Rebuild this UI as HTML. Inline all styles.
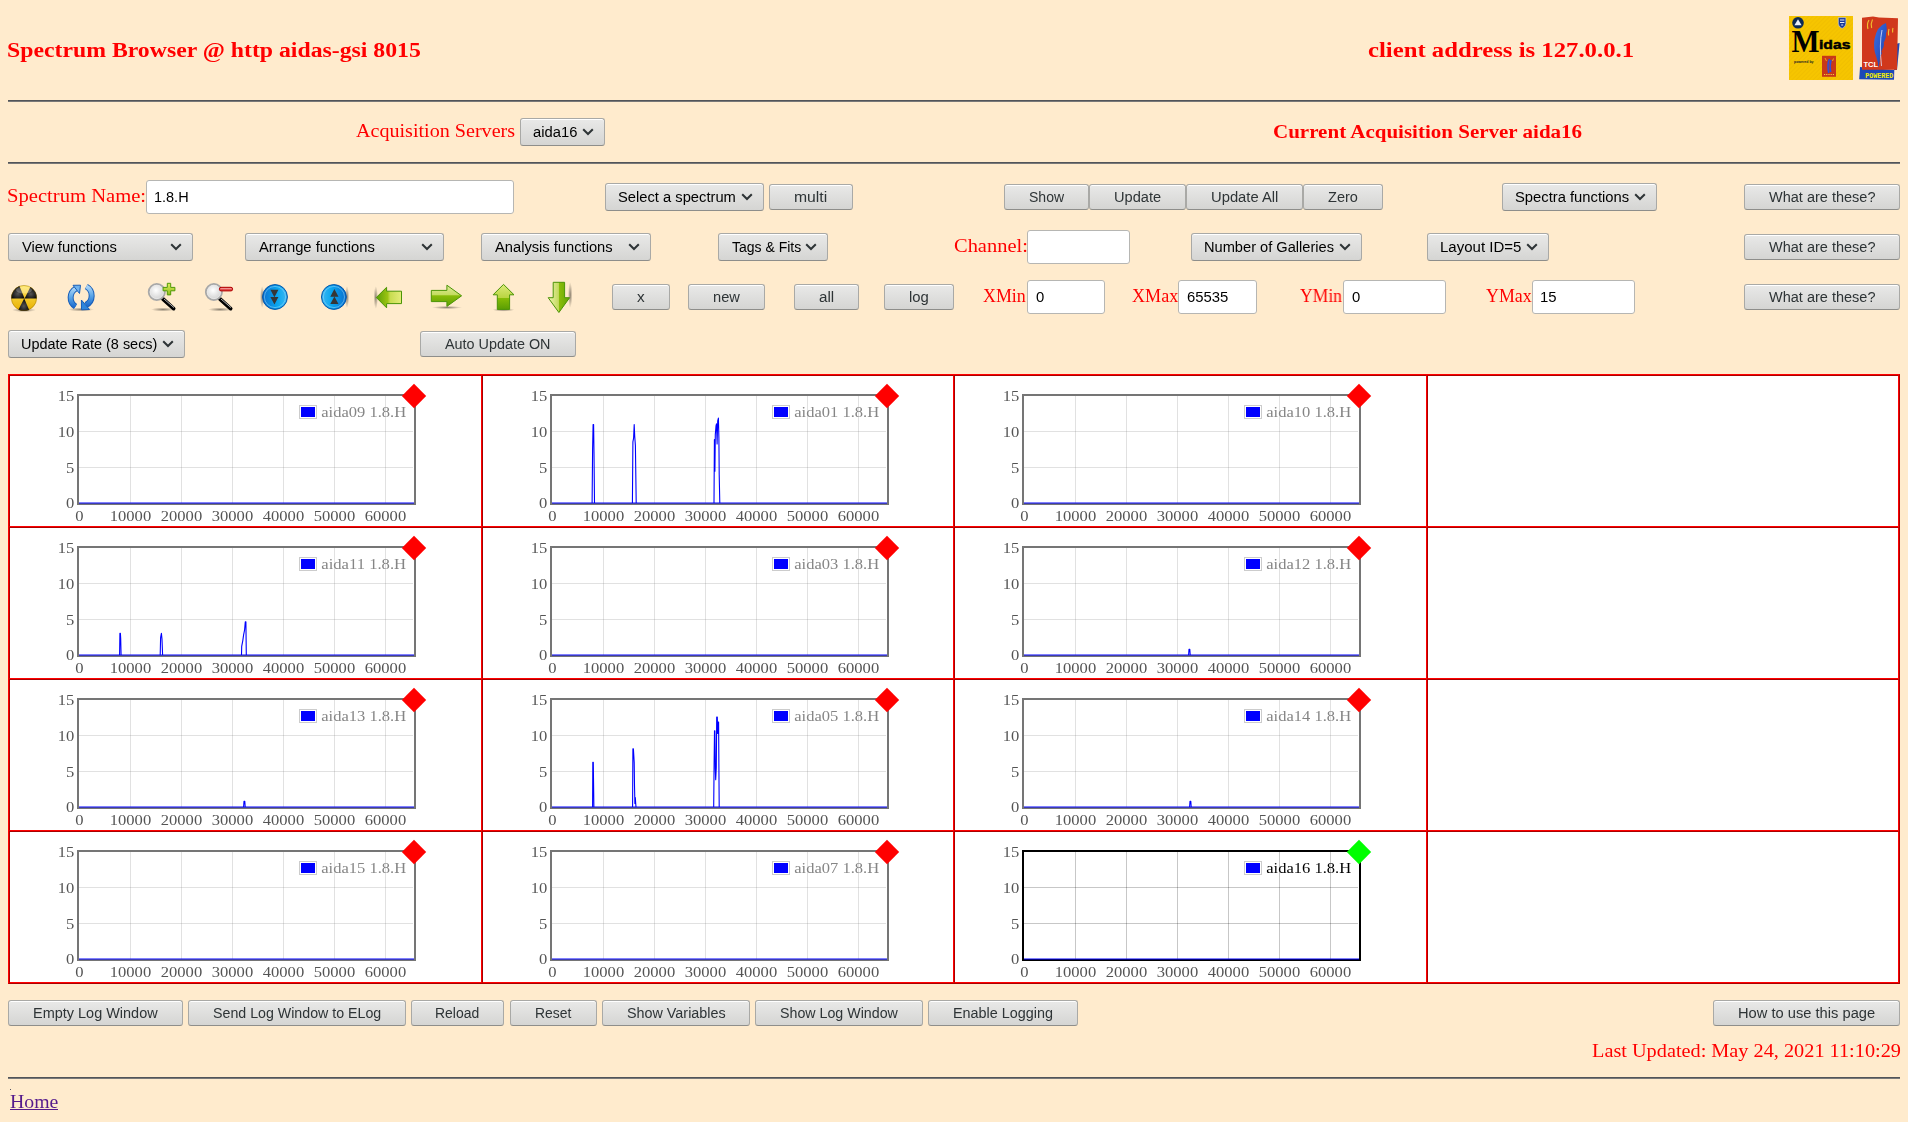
<!DOCTYPE html>
<html><head><meta charset="utf-8"><title>Spectrum Browser</title><style>
html,body{margin:0;padding:0;background:#ffebcd;}
body{width:1908px;height:1122px;position:relative;overflow:hidden;font-family:"Liberation Serif",serif;}
.tx{position:absolute;white-space:nowrap;line-height:20px;transform-origin:0 0;will-change:transform;}
.btn{position:absolute;border:1px solid #a9a9a6;border-bottom-color:#8e8e8b;border-radius:3px;
 background:linear-gradient(#e9e9e8,#d5d5d3);box-shadow:inset 0 1px 0 #fff;}
.sel{}
.chev{position:absolute;}
.inp{position:absolute;border:1px solid #b6b6b3;border-radius:3px;background:#fff;}
.hr{position:absolute;left:8px;width:1892px;height:0;border-top:1px solid #525458;border-bottom:1px solid #787878;}
.tbl{position:absolute;left:8px;top:374px;width:1890px;height:608px;border:1px solid;border-color:#ff0000 #ab0000 #ab0000 #ff0000;}
.td{position:absolute;border:1px solid;border-color:#ab0000 #ff0000 #ff0000 #ab0000;background:#fff;}
.ch{position:absolute;font-family:"Liberation Serif",serif;will-change:transform;}
.ico{position:absolute;}
</style></head><body>
<div class="tx" style="left:7.41px;top:40.00px;font-family:'Liberation Serif', serif;font-weight:bold;font-size:20.03px;color:#ff0000;transform:scaleX(1.1869)">Spectrum Browser @ http aidas-gsi 8015</div>
<div class="tx" style="left:1367.93px;top:40.00px;font-family:'Liberation Serif', serif;font-weight:bold;font-size:20.03px;color:#ff0000;transform:scaleX(1.2353)">client address is 127.0.0.1</div>
<svg class="ico" width="120" height="70" viewBox="1788 14 120 70" style="left:1788px;top:14px">
<defs>
 <pattern id="stripe" width="3" height="3" patternUnits="userSpaceOnUse" patternTransform="rotate(45)"><rect width="3" height="3" fill="#f6c500"/><rect width="1" height="3" fill="#f1bf00"/></pattern>
 <linearGradient id="feather" x1="0" y1="0" x2="1" y2="1"><stop offset="0" stop-color="#3a6fe0"/><stop offset="1" stop-color="#1c3fb0"/></linearGradient>
</defs>
<!-- Midas -->
<rect x="1789" y="16" width="64" height="64" fill="url(#stripe)"/>
<circle cx="1798" cy="22.8" r="5.8" fill="#0c2a55"/>
<path d="M1798 19.3 L1801.6 25.3 L1794.4 25.3 Z" fill="#e8eef8"/>
<path d="M1838.3 17.6 h7.6 v5.6 q0 3.6 -3.8 5.2 q-3.8 -1.6 -3.8 -5.2 z" fill="#1a3a9a" stroke="#f8f8f8" stroke-width="0.5"/>
<path d="M1840 20 h4.4 M1840 22.5 h4.4 M1841.2 25 h2" stroke="#fff" stroke-width="0.9"/>
<text x="1791.5" y="51.8" font-family="'Liberation Serif', serif" font-weight="bold" font-size="32" fill="#000" textLength="28" lengthAdjust="spacingAndGlyphs">M</text>
<text x="1819" y="49.3" font-family="'Liberation Sans', sans-serif" font-weight="bold" font-size="13.5" fill="#000" stroke="#000" stroke-width="0.5" textLength="31.5" lengthAdjust="spacingAndGlyphs">idas</text>
<text x="1794" y="62.5" font-family="'Liberation Sans', sans-serif" font-weight="bold" font-size="4.2" fill="#222" textLength="19.5" lengthAdjust="spacingAndGlyphs">powered by</text>
<rect x="1822" y="55.8" width="14" height="21" fill="#c83818"/>
<path d="M1829.5 59 q-2.5 5 -0.8 14 M1831 60 q-1.5 5 -0.4 12" stroke="#3050d8" stroke-width="1.6" fill="none"/>
<path d="M1825 58 l1.5 3 M1833.5 58.5 l-1 2.5" stroke="#f0c020" stroke-width="0.8"/>
<path d="M1824 74.5 h10" stroke="#f0d040" stroke-width="1" stroke-dasharray="1.2 1"/>
<!-- TCL -->
<path d="M1860 67 L1859.2 79.2 L1894 79.7 L1894.3 70 Z" fill="#1c48b8"/>
<path d="M1895.5 44 L1899.6 43 L1897 70 L1894 70 Z" fill="#1c48b8"/>
<path d="M1862 17.8 L1873 16.5 L1879 17.6 L1898 18.2 L1897 69.8 L1862 69.8 Z" fill="#d0381c"/>
<path d="M1869 20 q-2.5 4 -1 9 M1872.5 19.5 q-2 4 -0.8 8.5 M1889 29 q-1 3.5 -0.4 6.5 M1893 28 q-0.8 2.5 -0.3 4.5" stroke="#f0c030" stroke-width="1.1" fill="none"/>
<path d="M1886 23 q-9 3 -11.5 16 q-1.5 9 1.5 17 q2 5 2.5 12 q1.2 -5 1.5 -10 q1 -3 2 -5 q-1.5 -1 0 -3 q2 -3 2 -6 q-1 -1 0.5 -3 q2 -4 1.5 -8 q1.5 -2 0 -10 z" fill="url(#feather)"/>
<path d="M1882 30 q-3 14 -0.5 36" stroke="#dfe6ff" stroke-width="0.8" fill="none"/>
<text x="1863.4" y="66.8" font-family="'Liberation Sans', sans-serif" font-weight="bold" font-size="7" fill="#fff" textLength="14.6" lengthAdjust="spacingAndGlyphs">TCL</text>
<text x="1865.3" y="77.8" font-family="'Liberation Mono', monospace" font-weight="bold" font-size="7.4" fill="#f4f000" textLength="28" lengthAdjust="spacingAndGlyphs">POWERED</text>
</svg>

<div class="hr" style="top:100px"></div>
<div class="tx" style="left:356.26px;top:121.00px;font-family:'Liberation Serif', serif;font-weight:normal;font-size:17.81px;color:#ff0000;transform:scaleX(1.1292)">Acquisition Servers</div>
<div class="btn sel" style="left:520px;top:118px;width:83px;height:26px"></div>
<div class="tx" style="left:533.15px;top:123.00px;font-family:'Liberation Sans', sans-serif;font-weight:normal;font-size:13.71px;color:#000;transform:scaleX(1.0775)">aida16</div>
<svg class="chev" width="12" height="8" viewBox="0 0 12 8" style="left:582px;top:128px"><path d="M1.2 1.2 L6 6 L10.8 1.2" fill="none" stroke="#2e3436" stroke-width="2"/></svg>
<div class="tx" style="left:1272.57px;top:121.50px;font-family:'Liberation Serif', serif;font-weight:bold;font-size:17.81px;color:#ff0000;transform:scaleX(1.1804)">Current Acquisition Server aida16</div>
<div class="hr" style="top:162px"></div>
<div class="tx" style="left:7.10px;top:186.00px;font-family:'Liberation Serif', serif;font-weight:normal;font-size:17.81px;color:#ff0000;transform:scaleX(1.1582)">Spectrum Name:</div>
<div class="inp" style="left:146px;top:180px;width:366px;height:32px"></div>
<div class="tx" style="left:154.32px;top:188.00px;font-family:'Liberation Sans', sans-serif;font-weight:normal;font-size:13.71px;color:#000;transform:scaleX(1.0559)">1.8.H</div>
<div class="btn sel" style="left:605px;top:183px;width:157px;height:26px"></div>
<div class="tx" style="left:618.02px;top:188.00px;font-family:'Liberation Sans', sans-serif;font-weight:normal;font-size:13.71px;color:#000;transform:scaleX(1.0746)">Select a spectrum</div>
<svg class="chev" width="12" height="8" viewBox="0 0 12 8" style="left:741px;top:193px"><path d="M1.2 1.2 L6 6 L10.8 1.2" fill="none" stroke="#2e3436" stroke-width="2"/></svg>
<div class="btn" style="left:769px;top:184px;width:82px;height:24px"></div>
<div class="tx" style="left:794.39px;top:188.00px;font-family:'Liberation Sans', sans-serif;font-weight:normal;font-size:13.71px;color:#2e3436;transform:scaleX(1.1483)">multi</div>
<div class="btn" style="left:1004px;top:184px;width:83px;height:24px"></div>
<div class="tx" style="left:1028.96px;top:188.00px;font-family:'Liberation Sans', sans-serif;font-weight:normal;font-size:13.71px;color:#2e3436;transform:scaleX(1.0233)">Show</div>
<div class="btn" style="left:1089px;top:184px;width:95px;height:24px"></div>
<div class="tx" style="left:1113.96px;top:188.00px;font-family:'Liberation Sans', sans-serif;font-weight:normal;font-size:13.71px;color:#2e3436;transform:scaleX(1.0655)">Update</div>
<div class="btn" style="left:1186px;top:184px;width:115px;height:24px"></div>
<div class="tx" style="left:1210.84px;top:188.00px;font-family:'Liberation Sans', sans-serif;font-weight:normal;font-size:13.71px;color:#2e3436;transform:scaleX(1.0778)">Update All</div>
<div class="btn" style="left:1303px;top:184px;width:78px;height:24px"></div>
<div class="tx" style="left:1328.04px;top:188.00px;font-family:'Liberation Sans', sans-serif;font-weight:normal;font-size:13.71px;color:#2e3436;transform:scaleX(1.0618)">Zero</div>
<div class="btn sel" style="left:1502px;top:183px;width:153px;height:26px"></div>
<div class="tx" style="left:1515.03px;top:188.00px;font-family:'Liberation Sans', sans-serif;font-weight:normal;font-size:13.71px;color:#000;transform:scaleX(1.0773)">Spectra functions</div>
<svg class="chev" width="12" height="8" viewBox="0 0 12 8" style="left:1634px;top:193px"><path d="M1.2 1.2 L6 6 L10.8 1.2" fill="none" stroke="#2e3436" stroke-width="2"/></svg>
<div class="btn" style="left:1744px;top:184px;width:154px;height:24px"></div>
<div class="tx" style="left:1768.77px;top:188.00px;font-family:'Liberation Sans', sans-serif;font-weight:normal;font-size:13.71px;color:#2e3436;transform:scaleX(1.0587)">What are these?</div>
<div class="btn sel" style="left:8px;top:233px;width:183px;height:26px"></div>
<div class="tx" style="left:21.77px;top:238.00px;font-family:'Liberation Sans', sans-serif;font-weight:normal;font-size:13.71px;color:#000;transform:scaleX(1.0766)">View functions</div>
<svg class="chev" width="12" height="8" viewBox="0 0 12 8" style="left:170px;top:243px"><path d="M1.2 1.2 L6 6 L10.8 1.2" fill="none" stroke="#2e3436" stroke-width="2"/></svg>
<div class="btn sel" style="left:245px;top:233px;width:197px;height:26px"></div>
<div class="tx" style="left:258.77px;top:238.00px;font-family:'Liberation Sans', sans-serif;font-weight:normal;font-size:13.71px;color:#000;transform:scaleX(1.0784)">Arrange functions</div>
<svg class="chev" width="12" height="8" viewBox="0 0 12 8" style="left:421px;top:243px"><path d="M1.2 1.2 L6 6 L10.8 1.2" fill="none" stroke="#2e3436" stroke-width="2"/></svg>
<div class="btn sel" style="left:481px;top:233px;width:168px;height:26px"></div>
<div class="tx" style="left:494.77px;top:238.00px;font-family:'Liberation Sans', sans-serif;font-weight:normal;font-size:13.71px;color:#000;transform:scaleX(1.0720)">Analysis functions</div>
<svg class="chev" width="12" height="8" viewBox="0 0 12 8" style="left:628px;top:243px"><path d="M1.2 1.2 L6 6 L10.8 1.2" fill="none" stroke="#2e3436" stroke-width="2"/></svg>
<div class="btn sel" style="left:718px;top:233px;width:108px;height:26px"></div>
<div class="tx" style="left:732.02px;top:238.00px;font-family:'Liberation Sans', sans-serif;font-weight:normal;font-size:13.71px;color:#000;transform:scaleX(1.0210)">Tags &amp; Fits</div>
<svg class="chev" width="12" height="8" viewBox="0 0 12 8" style="left:805px;top:243px"><path d="M1.2 1.2 L6 6 L10.8 1.2" fill="none" stroke="#2e3436" stroke-width="2"/></svg>
<div class="tx" style="left:953.64px;top:236.00px;font-family:'Liberation Serif', serif;font-weight:normal;font-size:17.81px;color:#ff0000;transform:scaleX(1.1491)">Channel:</div>
<div class="inp" style="left:1027px;top:230px;width:101px;height:32px"></div>
<div class="btn sel" style="left:1191px;top:233px;width:169px;height:26px"></div>
<div class="tx" style="left:1203.65px;top:238.00px;font-family:'Liberation Sans', sans-serif;font-weight:normal;font-size:13.71px;color:#000;transform:scaleX(1.0669)">Number of Galleries</div>
<svg class="chev" width="12" height="8" viewBox="0 0 12 8" style="left:1339px;top:243px"><path d="M1.2 1.2 L6 6 L10.8 1.2" fill="none" stroke="#2e3436" stroke-width="2"/></svg>
<div class="btn sel" style="left:1427px;top:233px;width:120px;height:26px"></div>
<div class="tx" style="left:1439.65px;top:238.00px;font-family:'Liberation Sans', sans-serif;font-weight:normal;font-size:13.71px;color:#000;transform:scaleX(1.0950)">Layout ID=5</div>
<svg class="chev" width="12" height="8" viewBox="0 0 12 8" style="left:1526px;top:243px"><path d="M1.2 1.2 L6 6 L10.8 1.2" fill="none" stroke="#2e3436" stroke-width="2"/></svg>
<div class="btn" style="left:1744px;top:234px;width:154px;height:24px"></div>
<div class="tx" style="left:1768.77px;top:238.00px;font-family:'Liberation Sans', sans-serif;font-weight:normal;font-size:13.71px;color:#2e3436;transform:scaleX(1.0587)">What are these?</div>
<svg class="ico" width="600" height="40" viewBox="0 278 600 40" style="left:0;top:278px">
<defs>
 <radialGradient id="shadow" cx="0.5" cy="0.5" r="0.5"><stop offset="0" stop-color="#000" stop-opacity="0.45"/><stop offset="1" stop-color="#000" stop-opacity="0"/></radialGradient>
 <linearGradient id="yel" x1="0" y1="0" x2="0" y2="1"><stop offset="0" stop-color="#ffe45c"/><stop offset="1" stop-color="#e8b000"/></linearGradient>
 <radialGradient id="blk" cx="0.5" cy="0.6" r="0.6"><stop offset="0" stop-color="#555"/><stop offset="1" stop-color="#000"/></radialGradient>
 <linearGradient id="blueA" x1="0" y1="0" x2="0" y2="1"><stop offset="0" stop-color="#a9d3f5"/><stop offset="0.5" stop-color="#5aa5e8"/><stop offset="1" stop-color="#1f6fd0"/></linearGradient>
 <linearGradient id="bcirc" x1="0" y1="0" x2="1" y2="0"><stop offset="0" stop-color="#0a6fcf"/><stop offset="0.6" stop-color="#0aa6ef"/><stop offset="1" stop-color="#3bb8f3"/></linearGradient>
 <linearGradient id="bcirc2" x1="1" y1="0" x2="0" y2="0"><stop offset="0" stop-color="#0a6fcf"/><stop offset="0.6" stop-color="#0aa6ef"/><stop offset="1" stop-color="#3bb8f3"/></linearGradient>
 <radialGradient id="lens" cx="0.45" cy="0.4" r="0.6"><stop offset="0" stop-color="#ffffff"/><stop offset="1" stop-color="#cfcfcf"/></radialGradient>
 <linearGradient id="gplus" x1="0" y1="0" x2="0" y2="1"><stop offset="0" stop-color="#e0ec60"/><stop offset="1" stop-color="#8cbc18"/></linearGradient>
 <linearGradient id="gL" x1="0" y1="0" x2="1" y2="0"><stop offset="0" stop-color="#5a9e06"/><stop offset="0.45" stop-color="#9cc412"/><stop offset="0.55" stop-color="#c8dc50"/><stop offset="1" stop-color="#e4ec7a"/></linearGradient>
 <linearGradient id="gR" x1="0" y1="0" x2="0" y2="1"><stop offset="0" stop-color="#e0ec9a"/><stop offset="0.45" stop-color="#c4dc60"/><stop offset="0.5" stop-color="#88bc08"/><stop offset="1" stop-color="#5e9e06"/></linearGradient>
 <linearGradient id="gU" x1="0" y1="0" x2="0" y2="1"><stop offset="0" stop-color="#dcea7a"/><stop offset="0.55" stop-color="#b8d440"/><stop offset="0.56" stop-color="#86bc06"/><stop offset="1" stop-color="#5a9e04"/></linearGradient>
 <linearGradient id="gD" x1="0" y1="0" x2="1" y2="0"><stop offset="0" stop-color="#eef4b0"/><stop offset="0.48" stop-color="#c4da60"/><stop offset="0.5" stop-color="#8cbe0a"/><stop offset="1" stop-color="#62a406"/></linearGradient>
<linearGradient id="vsh" x1="0" y1="0" x2="1" y2="0"><stop offset="0" stop-color="#000" stop-opacity="0"/><stop offset="0.5" stop-color="#000" stop-opacity="0.28"/><stop offset="1" stop-color="#000" stop-opacity="0"/></linearGradient>
</defs>
<!-- radiation -->
<ellipse cx="24" cy="310" rx="12" ry="2.2" fill="url(#shadow)"/>
<circle cx="24" cy="298" r="12.8" fill="url(#yel)"/>
<path d="M24.6 298.6 L11.2 298.6 A12.8 12.8 0 0 1 19.4 286.1 Z" fill="url(#blk)"/>
<path d="M24.6 298.6 L36.8 298.6 A12.8 12.8 0 0 0 30.4 286.9 Z" fill="url(#blk)"/>
<path d="M24.2 298.6 L18.4 309.7 A12.8 12.8 0 0 0 29.2 309.9 Z" fill="url(#blk)"/>
<circle cx="24" cy="298" r="12.6" fill="none" stroke="#7a5a00" stroke-width="0.6" opacity="0.6"/>
<ellipse cx="24" cy="290" rx="8" ry="3.5" fill="#fff" opacity="0.25"/>
<!-- refresh -->
<ellipse cx="81" cy="309.5" rx="13" ry="2" fill="url(#shadow)"/>
<path d="M75.5 306.5 A10.5 10.5 0 0 1 76 288.5" fill="none" stroke="#1a5fb8" stroke-width="6"/>
<path d="M75.5 306.5 A10.5 10.5 0 0 1 76 288.5" fill="none" stroke="url(#blueA)" stroke-width="4"/>
<path d="M73 285.3 L80.5 285.2 L79.5 293.5 Z" fill="#6fb2ee" stroke="#1a5fb8" stroke-width="1"/>
<path d="M86.3 286.5 A10.5 10.5 0 0 1 86 305" fill="none" stroke="#1a5fb8" stroke-width="6"/>
<path d="M86.3 286.5 A10.5 10.5 0 0 1 86 305" fill="none" stroke="url(#blueA)" stroke-width="4"/>
<path d="M81.4 300 L89.5 309.5 L81.5 309.8 Z" fill="#2f86dc" stroke="#1a5fb8" stroke-width="1"/>
<!-- zoom in -->
<ellipse cx="163" cy="309.5" rx="12" ry="2" fill="url(#shadow)"/>
<line x1="163" y1="299" x2="173.6" y2="308.6" stroke="#000" stroke-width="3.8" stroke-linecap="round"/>
<line x1="164" y1="299" x2="174" y2="307.6" stroke="#fff" stroke-width="0.9" opacity="0.8"/>
<circle cx="156.8" cy="292" r="8.1" fill="url(#lens)" stroke="#a8a8a8" stroke-width="1.8"/>
<circle cx="156.8" cy="292" r="6.6" fill="none" stroke="#e8e8e8" stroke-width="0.8"/>
<path d="M167.3 283.3 h3.4 v4.1 h4.2 v3.4 h-4.2 v4.1 h-3.4 v-4.1 h-4.2 v-3.4 h4.2 z" fill="url(#gplus)" stroke="#4e9a06" stroke-width="1"/>
<!-- zoom out -->
<ellipse cx="220" cy="309.5" rx="12" ry="2" fill="url(#shadow)"/>
<line x1="220" y1="299" x2="230.6" y2="308.6" stroke="#000" stroke-width="3.8" stroke-linecap="round"/>
<line x1="221" y1="299" x2="231" y2="307.6" stroke="#fff" stroke-width="0.9" opacity="0.8"/>
<circle cx="213.9" cy="292" r="8.1" fill="url(#lens)" stroke="#a8a8a8" stroke-width="1.8"/>
<circle cx="213.9" cy="292" r="6.6" fill="none" stroke="#e8e8e8" stroke-width="0.8"/>
<rect x="219.4" y="287.3" width="13.2" height="3.6" rx="1.6" fill="#e04848" stroke="#b00000" stroke-width="1"/>
<rect x="220.5" y="288" width="11" height="1.1" fill="#f7a0a0" opacity="0.8"/>
<!-- blue circle down -->
<ellipse cx="262.2" cy="297" rx="2.2" ry="11" fill="url(#shadow)"/>
<circle cx="275" cy="297" r="12.4" fill="url(#bcirc)" stroke="#0052a8" stroke-width="1"/>
<circle cx="275" cy="297" r="10.6" fill="none" stroke="#8fd4fa" stroke-width="0.7" opacity="0.8"/>
<path d="M270.4 289.8 H278.4 L274.4 297.2 Z M270.4 296.9 H278.4 L274.4 304.6 Z" fill="#363636"/>
<!-- blue circle up -->
<ellipse cx="347" cy="297" rx="2.2" ry="11" fill="url(#shadow)"/>
<circle cx="333.9" cy="297" r="12.4" fill="url(#bcirc2)" stroke="#0052a8" stroke-width="1"/>
<circle cx="333.9" cy="297" r="10.6" fill="none" stroke="#8fd4fa" stroke-width="0.7" opacity="0.8"/>
<path d="M330.3 296.8 H338.5 L334.4 289 Z M330.3 304 H338.5 L334.4 296.6 Z" fill="#363636"/>
<!-- left arrow -->
<ellipse cx="375.8" cy="297.5" rx="2.2" ry="11.5" fill="url(#shadow)"/>
<path d="M376.3 297.5 L386.6 287.3 L386.6 291.2 L401.5 291.2 L401.5 303.6 L386.6 303.6 L386.6 307.8 Z" fill="url(#gL)" stroke="#4a9406" stroke-width="1" stroke-linejoin="round"/>
<!-- right arrow -->
<ellipse cx="447" cy="307.5" rx="15" ry="1.6" fill="url(#shadow)"/>
<path d="M461.6 295.8 L446.9 285.2 L446.9 290.4 L431.3 290.4 L431.3 301.6 L446.9 301.6 L446.9 306.4 Z" fill="url(#gR)" stroke="#4a9406" stroke-width="1" stroke-linejoin="round"/>
<!-- up arrow -->
<ellipse cx="503.5" cy="309.8" rx="11" ry="1.8" fill="url(#shadow)"/>
<path d="M503.5 284.4 L514 294.8 L509.6 294.8 L509.6 309.4 L497.3 309.4 L497.3 294.8 L493.1 294.8 Z" fill="url(#gU)" stroke="#4a9406" stroke-width="1" stroke-linejoin="round"/>
<!-- down arrow -->
<ellipse cx="570.2" cy="295" rx="2.2" ry="13" fill="url(#shadow)"/>
<path d="M553.2 282.3 L564.6 282.3 L564.6 297.7 L569.6 297.7 L558.9 312.5 L548.2 297.7 L553.2 297.7 Z" fill="url(#gD)" stroke="#4a9406" stroke-width="1" stroke-linejoin="round"/>
</svg>

<div class="btn" style="left:612px;top:284px;width:56px;height:24px"></div>
<div class="tx" style="left:637.15px;top:288.00px;font-family:'Liberation Sans', sans-serif;font-weight:normal;font-size:13.71px;color:#2e3436;transform:scaleX(1.1229)">x</div>
<div class="btn" style="left:688px;top:284px;width:75px;height:24px"></div>
<div class="tx" style="left:713.07px;top:288.00px;font-family:'Liberation Sans', sans-serif;font-weight:normal;font-size:13.71px;color:#2e3436;transform:scaleX(1.0689)">new</div>
<div class="btn" style="left:794px;top:284px;width:63px;height:24px"></div>
<div class="tx" style="left:818.91px;top:288.00px;font-family:'Liberation Sans', sans-serif;font-weight:normal;font-size:13.71px;color:#2e3436;transform:scaleX(1.1079)">all</div>
<div class="btn" style="left:884px;top:284px;width:68px;height:24px"></div>
<div class="tx" style="left:909.09px;top:288.00px;font-family:'Liberation Sans', sans-serif;font-weight:normal;font-size:13.71px;color:#2e3436;transform:scaleX(1.0837)">log</div>
<div class="tx" style="left:983.22px;top:286.00px;font-family:'Liberation Serif', serif;font-weight:normal;font-size:17.81px;color:#ff0000;transform:scaleX(1.0060)">XMin</div>
<div class="inp" style="left:1027px;top:280px;width:76px;height:32px"></div>
<div class="tx" style="left:1035.83px;top:288.00px;font-family:'Liberation Sans', sans-serif;font-weight:normal;font-size:13.71px;color:#000;transform:scaleX(1.0853)">0</div>
<div class="tx" style="left:1131.82px;top:286.00px;font-family:'Liberation Serif', serif;font-weight:normal;font-size:17.81px;color:#ff0000;transform:scaleX(1.0162)">XMax</div>
<div class="inp" style="left:1178px;top:280px;width:77px;height:32px"></div>
<div class="tx" style="left:1186.83px;top:288.00px;font-family:'Liberation Sans', sans-serif;font-weight:normal;font-size:13.71px;color:#000;transform:scaleX(1.0853)">65535</div>
<div class="tx" style="left:1300.28px;top:286.00px;font-family:'Liberation Serif', serif;font-weight:normal;font-size:17.81px;color:#ff0000;transform:scaleX(0.9881)">YMin</div>
<div class="inp" style="left:1343px;top:280px;width:101px;height:32px"></div>
<div class="tx" style="left:1351.83px;top:288.00px;font-family:'Liberation Sans', sans-serif;font-weight:normal;font-size:13.71px;color:#000;transform:scaleX(1.0853)">0</div>
<div class="tx" style="left:1486.07px;top:286.00px;font-family:'Liberation Serif', serif;font-weight:normal;font-size:17.81px;color:#ff0000;transform:scaleX(1.0039)">YMax</div>
<div class="inp" style="left:1532px;top:280px;width:101px;height:32px"></div>
<div class="tx" style="left:1540.33px;top:288.00px;font-family:'Liberation Sans', sans-serif;font-weight:normal;font-size:13.71px;color:#000;transform:scaleX(1.0853)">15</div>
<div class="btn" style="left:1744px;top:284px;width:154px;height:24px"></div>
<div class="tx" style="left:1768.77px;top:288.00px;font-family:'Liberation Sans', sans-serif;font-weight:normal;font-size:13.71px;color:#2e3436;transform:scaleX(1.0587)">What are these?</div>
<div class="btn sel" style="left:8px;top:330px;width:175px;height:26px"></div>
<div class="tx" style="left:20.77px;top:335.00px;font-family:'Liberation Sans', sans-serif;font-weight:normal;font-size:13.71px;color:#000;transform:scaleX(1.0534)">Update Rate (8 secs)</div>
<svg class="chev" width="12" height="8" viewBox="0 0 12 8" style="left:162px;top:340px"><path d="M1.2 1.2 L6 6 L10.8 1.2" fill="none" stroke="#2e3436" stroke-width="2"/></svg>
<div class="btn" style="left:420px;top:331px;width:154px;height:24px"></div>
<div class="tx" style="left:445.26px;top:335.00px;font-family:'Liberation Sans', sans-serif;font-weight:normal;font-size:13.71px;color:#2e3436;transform:scaleX(1.0491)">Auto Update ON</div>
<div class="tbl"></div>
<div class="td" style="left:9px;top:375px;width:471px;height:150px"></div>
<svg class="ch" width="472" height="151" style="left:9px;top:375px"><line x1="121.5" y1="21" x2="121.5" y2="128" stroke="rgba(128,128,128,0.24)"/><line x1="172.5" y1="21" x2="172.5" y2="128" stroke="rgba(128,128,128,0.24)"/><line x1="223.5" y1="21" x2="223.5" y2="128" stroke="rgba(128,128,128,0.24)"/><line x1="274.5" y1="21" x2="274.5" y2="128" stroke="rgba(128,128,128,0.24)"/><line x1="325.5" y1="21" x2="325.5" y2="128" stroke="rgba(128,128,128,0.24)"/><line x1="376.5" y1="21" x2="376.5" y2="128" stroke="rgba(128,128,128,0.24)"/><line x1="70" y1="56.5" x2="404" y2="56.5" stroke="rgba(128,128,128,0.24)"/><line x1="70" y1="92.5" x2="404" y2="92.5" stroke="rgba(128,128,128,0.24)"/><rect x="69" y="20" width="337" height="109" fill="none" stroke="#757575" stroke-width="2"/><path d="M70 128 H405" stroke="#0000ff" stroke-width="1" fill="none"/><text x="48.76" y="25.90" font-size="14.47" fill="#545454" textLength="16.54" lengthAdjust="spacingAndGlyphs">15</text><text x="48.76" y="61.90" font-size="14.47" fill="#545454" textLength="16.54" lengthAdjust="spacingAndGlyphs">10</text><text x="57.03" y="97.90" font-size="14.47" fill="#545454" textLength="8.27" lengthAdjust="spacingAndGlyphs">5</text><text x="57.03" y="132.90" font-size="14.47" fill="#545454" textLength="8.27" lengthAdjust="spacingAndGlyphs">0</text><text x="66.36" y="145.80" font-size="14.47" fill="#545454" textLength="8.27" lengthAdjust="spacingAndGlyphs">0</text><text x="100.82" y="145.80" font-size="14.47" fill="#545454" textLength="41.35" lengthAdjust="spacingAndGlyphs">10000</text><text x="151.82" y="145.80" font-size="14.47" fill="#545454" textLength="41.35" lengthAdjust="spacingAndGlyphs">20000</text><text x="202.82" y="145.80" font-size="14.47" fill="#545454" textLength="41.35" lengthAdjust="spacingAndGlyphs">30000</text><text x="253.82" y="145.80" font-size="14.47" fill="#545454" textLength="41.35" lengthAdjust="spacingAndGlyphs">40000</text><text x="304.82" y="145.80" font-size="14.47" fill="#545454" textLength="41.35" lengthAdjust="spacingAndGlyphs">50000</text><text x="355.82" y="145.80" font-size="14.47" fill="#545454" textLength="41.35" lengthAdjust="spacingAndGlyphs">60000</text><rect x="290.5" y="30.5" width="17" height="13" fill="none" stroke="#ccc"/><rect x="292" y="32" width="14" height="10" fill="#0000ff"/><text x="312.30" y="41.85" font-size="14.47" fill="#858585" textLength="84.80" lengthAdjust="spacingAndGlyphs">aida09 1.8.H</text><path d="M405 8.8 L417.2 21 L405 33.2 L392.8 21 Z" fill="#ff0000"/></svg>
<div class="td" style="left:482px;top:375px;width:470px;height:150px"></div>
<svg class="ch" width="471" height="151" style="left:482px;top:375px"><line x1="121.5" y1="21" x2="121.5" y2="128" stroke="rgba(128,128,128,0.24)"/><line x1="172.5" y1="21" x2="172.5" y2="128" stroke="rgba(128,128,128,0.24)"/><line x1="223.5" y1="21" x2="223.5" y2="128" stroke="rgba(128,128,128,0.24)"/><line x1="274.5" y1="21" x2="274.5" y2="128" stroke="rgba(128,128,128,0.24)"/><line x1="325.5" y1="21" x2="325.5" y2="128" stroke="rgba(128,128,128,0.24)"/><line x1="376.5" y1="21" x2="376.5" y2="128" stroke="rgba(128,128,128,0.24)"/><line x1="70" y1="56.5" x2="404" y2="56.5" stroke="rgba(128,128,128,0.24)"/><line x1="70" y1="92.5" x2="404" y2="92.5" stroke="rgba(128,128,128,0.24)"/><rect x="69" y="20" width="337" height="109" fill="none" stroke="#757575" stroke-width="2"/><path d="M70 128 H405" stroke="#0000ff" stroke-width="1" fill="none"/><path d="M110.10 128.00 L110.60 74.00 L111.10 49.52 L111.60 49.52 L112.00 77.60 L112.50 128.00" stroke="#0000ff" stroke-width="1.1" fill="none" stroke-linejoin="round"/><path d="M150.40 128.00 L150.90 66.80 L151.60 63.20 L152.20 49.52 L152.70 61.04 L153.40 70.40 L154.20 128.00" stroke="#0000ff" stroke-width="1.1" fill="none" stroke-linejoin="round"/><path d="M232.00 128.00 L232.40 64.64 L232.90 96.32 L233.30 59.60 L234.00 50.96 L234.50 48.80 L235.10 68.96 L235.70 45.92 L236.40 43.04 L236.90 63.20 L237.20 99.20 L237.80 128.00" stroke="#0000ff" stroke-width="1.1" fill="none" stroke-linejoin="round"/><text x="48.76" y="25.90" font-size="14.47" fill="#545454" textLength="16.54" lengthAdjust="spacingAndGlyphs">15</text><text x="48.76" y="61.90" font-size="14.47" fill="#545454" textLength="16.54" lengthAdjust="spacingAndGlyphs">10</text><text x="57.03" y="97.90" font-size="14.47" fill="#545454" textLength="8.27" lengthAdjust="spacingAndGlyphs">5</text><text x="57.03" y="132.90" font-size="14.47" fill="#545454" textLength="8.27" lengthAdjust="spacingAndGlyphs">0</text><text x="66.36" y="145.80" font-size="14.47" fill="#545454" textLength="8.27" lengthAdjust="spacingAndGlyphs">0</text><text x="100.82" y="145.80" font-size="14.47" fill="#545454" textLength="41.35" lengthAdjust="spacingAndGlyphs">10000</text><text x="151.82" y="145.80" font-size="14.47" fill="#545454" textLength="41.35" lengthAdjust="spacingAndGlyphs">20000</text><text x="202.82" y="145.80" font-size="14.47" fill="#545454" textLength="41.35" lengthAdjust="spacingAndGlyphs">30000</text><text x="253.82" y="145.80" font-size="14.47" fill="#545454" textLength="41.35" lengthAdjust="spacingAndGlyphs">40000</text><text x="304.82" y="145.80" font-size="14.47" fill="#545454" textLength="41.35" lengthAdjust="spacingAndGlyphs">50000</text><text x="355.82" y="145.80" font-size="14.47" fill="#545454" textLength="41.35" lengthAdjust="spacingAndGlyphs">60000</text><rect x="290.5" y="30.5" width="17" height="13" fill="none" stroke="#ccc"/><rect x="292" y="32" width="14" height="10" fill="#0000ff"/><text x="312.30" y="41.85" font-size="14.47" fill="#858585" textLength="84.80" lengthAdjust="spacingAndGlyphs">aida01 1.8.H</text><path d="M405 8.8 L417.2 21 L405 33.2 L392.8 21 Z" fill="#ff0000"/></svg>
<div class="td" style="left:954px;top:375px;width:471px;height:150px"></div>
<svg class="ch" width="472" height="151" style="left:954px;top:375px"><line x1="121.5" y1="21" x2="121.5" y2="128" stroke="rgba(128,128,128,0.24)"/><line x1="172.5" y1="21" x2="172.5" y2="128" stroke="rgba(128,128,128,0.24)"/><line x1="223.5" y1="21" x2="223.5" y2="128" stroke="rgba(128,128,128,0.24)"/><line x1="274.5" y1="21" x2="274.5" y2="128" stroke="rgba(128,128,128,0.24)"/><line x1="325.5" y1="21" x2="325.5" y2="128" stroke="rgba(128,128,128,0.24)"/><line x1="376.5" y1="21" x2="376.5" y2="128" stroke="rgba(128,128,128,0.24)"/><line x1="70" y1="56.5" x2="404" y2="56.5" stroke="rgba(128,128,128,0.24)"/><line x1="70" y1="92.5" x2="404" y2="92.5" stroke="rgba(128,128,128,0.24)"/><rect x="69" y="20" width="337" height="109" fill="none" stroke="#757575" stroke-width="2"/><path d="M70 128 H405" stroke="#0000ff" stroke-width="1" fill="none"/><text x="48.76" y="25.90" font-size="14.47" fill="#545454" textLength="16.54" lengthAdjust="spacingAndGlyphs">15</text><text x="48.76" y="61.90" font-size="14.47" fill="#545454" textLength="16.54" lengthAdjust="spacingAndGlyphs">10</text><text x="57.03" y="97.90" font-size="14.47" fill="#545454" textLength="8.27" lengthAdjust="spacingAndGlyphs">5</text><text x="57.03" y="132.90" font-size="14.47" fill="#545454" textLength="8.27" lengthAdjust="spacingAndGlyphs">0</text><text x="66.36" y="145.80" font-size="14.47" fill="#545454" textLength="8.27" lengthAdjust="spacingAndGlyphs">0</text><text x="100.82" y="145.80" font-size="14.47" fill="#545454" textLength="41.35" lengthAdjust="spacingAndGlyphs">10000</text><text x="151.82" y="145.80" font-size="14.47" fill="#545454" textLength="41.35" lengthAdjust="spacingAndGlyphs">20000</text><text x="202.82" y="145.80" font-size="14.47" fill="#545454" textLength="41.35" lengthAdjust="spacingAndGlyphs">30000</text><text x="253.82" y="145.80" font-size="14.47" fill="#545454" textLength="41.35" lengthAdjust="spacingAndGlyphs">40000</text><text x="304.82" y="145.80" font-size="14.47" fill="#545454" textLength="41.35" lengthAdjust="spacingAndGlyphs">50000</text><text x="355.82" y="145.80" font-size="14.47" fill="#545454" textLength="41.35" lengthAdjust="spacingAndGlyphs">60000</text><rect x="290.5" y="30.5" width="17" height="13" fill="none" stroke="#ccc"/><rect x="292" y="32" width="14" height="10" fill="#0000ff"/><text x="312.30" y="41.85" font-size="14.47" fill="#858585" textLength="84.80" lengthAdjust="spacingAndGlyphs">aida10 1.8.H</text><path d="M405 8.8 L417.2 21 L405 33.2 L392.8 21 Z" fill="#ff0000"/></svg>
<div class="td" style="left:1427px;top:375px;width:470px;height:150px"></div>
<div class="td" style="left:9px;top:527px;width:471px;height:150px"></div>
<svg class="ch" width="472" height="151" style="left:9px;top:527px"><line x1="121.5" y1="21" x2="121.5" y2="128" stroke="rgba(128,128,128,0.24)"/><line x1="172.5" y1="21" x2="172.5" y2="128" stroke="rgba(128,128,128,0.24)"/><line x1="223.5" y1="21" x2="223.5" y2="128" stroke="rgba(128,128,128,0.24)"/><line x1="274.5" y1="21" x2="274.5" y2="128" stroke="rgba(128,128,128,0.24)"/><line x1="325.5" y1="21" x2="325.5" y2="128" stroke="rgba(128,128,128,0.24)"/><line x1="376.5" y1="21" x2="376.5" y2="128" stroke="rgba(128,128,128,0.24)"/><line x1="70" y1="56.5" x2="404" y2="56.5" stroke="rgba(128,128,128,0.24)"/><line x1="70" y1="92.5" x2="404" y2="92.5" stroke="rgba(128,128,128,0.24)"/><rect x="69" y="20" width="337" height="109" fill="none" stroke="#757575" stroke-width="2"/><path d="M70 128 H405" stroke="#0000ff" stroke-width="1" fill="none"/><path d="M110.60 128.00 L110.90 106.40 L111.40 106.40 L111.70 111.44 L112.10 128.00" stroke="#0000ff" stroke-width="1.1" fill="none" stroke-linejoin="round"/><path d="M151.20 128.00 L151.60 110.72 L152.40 106.40 L153.00 112.16 L153.60 128.00" stroke="#0000ff" stroke-width="1.1" fill="none" stroke-linejoin="round"/><path d="M232.50 128.00 L232.70 119.36 L233.80 113.60 L234.60 107.84 L235.60 102.80 L236.30 94.88 L236.90 94.88 L237.30 128.00" stroke="#0000ff" stroke-width="1.1" fill="none" stroke-linejoin="round"/><text x="48.76" y="25.90" font-size="14.47" fill="#545454" textLength="16.54" lengthAdjust="spacingAndGlyphs">15</text><text x="48.76" y="61.90" font-size="14.47" fill="#545454" textLength="16.54" lengthAdjust="spacingAndGlyphs">10</text><text x="57.03" y="97.90" font-size="14.47" fill="#545454" textLength="8.27" lengthAdjust="spacingAndGlyphs">5</text><text x="57.03" y="132.90" font-size="14.47" fill="#545454" textLength="8.27" lengthAdjust="spacingAndGlyphs">0</text><text x="66.36" y="145.80" font-size="14.47" fill="#545454" textLength="8.27" lengthAdjust="spacingAndGlyphs">0</text><text x="100.82" y="145.80" font-size="14.47" fill="#545454" textLength="41.35" lengthAdjust="spacingAndGlyphs">10000</text><text x="151.82" y="145.80" font-size="14.47" fill="#545454" textLength="41.35" lengthAdjust="spacingAndGlyphs">20000</text><text x="202.82" y="145.80" font-size="14.47" fill="#545454" textLength="41.35" lengthAdjust="spacingAndGlyphs">30000</text><text x="253.82" y="145.80" font-size="14.47" fill="#545454" textLength="41.35" lengthAdjust="spacingAndGlyphs">40000</text><text x="304.82" y="145.80" font-size="14.47" fill="#545454" textLength="41.35" lengthAdjust="spacingAndGlyphs">50000</text><text x="355.82" y="145.80" font-size="14.47" fill="#545454" textLength="41.35" lengthAdjust="spacingAndGlyphs">60000</text><rect x="290.5" y="30.5" width="17" height="13" fill="none" stroke="#ccc"/><rect x="292" y="32" width="14" height="10" fill="#0000ff"/><text x="312.30" y="41.85" font-size="14.47" fill="#858585" textLength="84.80" lengthAdjust="spacingAndGlyphs">aida11 1.8.H</text><path d="M405 8.8 L417.2 21 L405 33.2 L392.8 21 Z" fill="#ff0000"/></svg>
<div class="td" style="left:482px;top:527px;width:470px;height:150px"></div>
<svg class="ch" width="471" height="151" style="left:482px;top:527px"><line x1="121.5" y1="21" x2="121.5" y2="128" stroke="rgba(128,128,128,0.24)"/><line x1="172.5" y1="21" x2="172.5" y2="128" stroke="rgba(128,128,128,0.24)"/><line x1="223.5" y1="21" x2="223.5" y2="128" stroke="rgba(128,128,128,0.24)"/><line x1="274.5" y1="21" x2="274.5" y2="128" stroke="rgba(128,128,128,0.24)"/><line x1="325.5" y1="21" x2="325.5" y2="128" stroke="rgba(128,128,128,0.24)"/><line x1="376.5" y1="21" x2="376.5" y2="128" stroke="rgba(128,128,128,0.24)"/><line x1="70" y1="56.5" x2="404" y2="56.5" stroke="rgba(128,128,128,0.24)"/><line x1="70" y1="92.5" x2="404" y2="92.5" stroke="rgba(128,128,128,0.24)"/><rect x="69" y="20" width="337" height="109" fill="none" stroke="#757575" stroke-width="2"/><path d="M70 128 H405" stroke="#0000ff" stroke-width="1" fill="none"/><text x="48.76" y="25.90" font-size="14.47" fill="#545454" textLength="16.54" lengthAdjust="spacingAndGlyphs">15</text><text x="48.76" y="61.90" font-size="14.47" fill="#545454" textLength="16.54" lengthAdjust="spacingAndGlyphs">10</text><text x="57.03" y="97.90" font-size="14.47" fill="#545454" textLength="8.27" lengthAdjust="spacingAndGlyphs">5</text><text x="57.03" y="132.90" font-size="14.47" fill="#545454" textLength="8.27" lengthAdjust="spacingAndGlyphs">0</text><text x="66.36" y="145.80" font-size="14.47" fill="#545454" textLength="8.27" lengthAdjust="spacingAndGlyphs">0</text><text x="100.82" y="145.80" font-size="14.47" fill="#545454" textLength="41.35" lengthAdjust="spacingAndGlyphs">10000</text><text x="151.82" y="145.80" font-size="14.47" fill="#545454" textLength="41.35" lengthAdjust="spacingAndGlyphs">20000</text><text x="202.82" y="145.80" font-size="14.47" fill="#545454" textLength="41.35" lengthAdjust="spacingAndGlyphs">30000</text><text x="253.82" y="145.80" font-size="14.47" fill="#545454" textLength="41.35" lengthAdjust="spacingAndGlyphs">40000</text><text x="304.82" y="145.80" font-size="14.47" fill="#545454" textLength="41.35" lengthAdjust="spacingAndGlyphs">50000</text><text x="355.82" y="145.80" font-size="14.47" fill="#545454" textLength="41.35" lengthAdjust="spacingAndGlyphs">60000</text><rect x="290.5" y="30.5" width="17" height="13" fill="none" stroke="#ccc"/><rect x="292" y="32" width="14" height="10" fill="#0000ff"/><text x="312.30" y="41.85" font-size="14.47" fill="#858585" textLength="84.80" lengthAdjust="spacingAndGlyphs">aida03 1.8.H</text><path d="M405 8.8 L417.2 21 L405 33.2 L392.8 21 Z" fill="#ff0000"/></svg>
<div class="td" style="left:954px;top:527px;width:471px;height:150px"></div>
<svg class="ch" width="472" height="151" style="left:954px;top:527px"><line x1="121.5" y1="21" x2="121.5" y2="128" stroke="rgba(128,128,128,0.24)"/><line x1="172.5" y1="21" x2="172.5" y2="128" stroke="rgba(128,128,128,0.24)"/><line x1="223.5" y1="21" x2="223.5" y2="128" stroke="rgba(128,128,128,0.24)"/><line x1="274.5" y1="21" x2="274.5" y2="128" stroke="rgba(128,128,128,0.24)"/><line x1="325.5" y1="21" x2="325.5" y2="128" stroke="rgba(128,128,128,0.24)"/><line x1="376.5" y1="21" x2="376.5" y2="128" stroke="rgba(128,128,128,0.24)"/><line x1="70" y1="56.5" x2="404" y2="56.5" stroke="rgba(128,128,128,0.24)"/><line x1="70" y1="92.5" x2="404" y2="92.5" stroke="rgba(128,128,128,0.24)"/><rect x="69" y="20" width="337" height="109" fill="none" stroke="#757575" stroke-width="2"/><path d="M70 128 H405" stroke="#0000ff" stroke-width="1" fill="none"/><path d="M234.60 128.00 L235.00 122.24 L235.80 122.24 L236.20 128.00" stroke="#0000ff" stroke-width="1.1" fill="none" stroke-linejoin="round"/><text x="48.76" y="25.90" font-size="14.47" fill="#545454" textLength="16.54" lengthAdjust="spacingAndGlyphs">15</text><text x="48.76" y="61.90" font-size="14.47" fill="#545454" textLength="16.54" lengthAdjust="spacingAndGlyphs">10</text><text x="57.03" y="97.90" font-size="14.47" fill="#545454" textLength="8.27" lengthAdjust="spacingAndGlyphs">5</text><text x="57.03" y="132.90" font-size="14.47" fill="#545454" textLength="8.27" lengthAdjust="spacingAndGlyphs">0</text><text x="66.36" y="145.80" font-size="14.47" fill="#545454" textLength="8.27" lengthAdjust="spacingAndGlyphs">0</text><text x="100.82" y="145.80" font-size="14.47" fill="#545454" textLength="41.35" lengthAdjust="spacingAndGlyphs">10000</text><text x="151.82" y="145.80" font-size="14.47" fill="#545454" textLength="41.35" lengthAdjust="spacingAndGlyphs">20000</text><text x="202.82" y="145.80" font-size="14.47" fill="#545454" textLength="41.35" lengthAdjust="spacingAndGlyphs">30000</text><text x="253.82" y="145.80" font-size="14.47" fill="#545454" textLength="41.35" lengthAdjust="spacingAndGlyphs">40000</text><text x="304.82" y="145.80" font-size="14.47" fill="#545454" textLength="41.35" lengthAdjust="spacingAndGlyphs">50000</text><text x="355.82" y="145.80" font-size="14.47" fill="#545454" textLength="41.35" lengthAdjust="spacingAndGlyphs">60000</text><rect x="290.5" y="30.5" width="17" height="13" fill="none" stroke="#ccc"/><rect x="292" y="32" width="14" height="10" fill="#0000ff"/><text x="312.30" y="41.85" font-size="14.47" fill="#858585" textLength="84.80" lengthAdjust="spacingAndGlyphs">aida12 1.8.H</text><path d="M405 8.8 L417.2 21 L405 33.2 L392.8 21 Z" fill="#ff0000"/></svg>
<div class="td" style="left:1427px;top:527px;width:470px;height:150px"></div>
<div class="td" style="left:9px;top:679px;width:471px;height:150px"></div>
<svg class="ch" width="472" height="151" style="left:9px;top:679px"><line x1="121.5" y1="21" x2="121.5" y2="128" stroke="rgba(128,128,128,0.24)"/><line x1="172.5" y1="21" x2="172.5" y2="128" stroke="rgba(128,128,128,0.24)"/><line x1="223.5" y1="21" x2="223.5" y2="128" stroke="rgba(128,128,128,0.24)"/><line x1="274.5" y1="21" x2="274.5" y2="128" stroke="rgba(128,128,128,0.24)"/><line x1="325.5" y1="21" x2="325.5" y2="128" stroke="rgba(128,128,128,0.24)"/><line x1="376.5" y1="21" x2="376.5" y2="128" stroke="rgba(128,128,128,0.24)"/><line x1="70" y1="56.5" x2="404" y2="56.5" stroke="rgba(128,128,128,0.24)"/><line x1="70" y1="92.5" x2="404" y2="92.5" stroke="rgba(128,128,128,0.24)"/><rect x="69" y="20" width="337" height="109" fill="none" stroke="#757575" stroke-width="2"/><path d="M70 128 H405" stroke="#0000ff" stroke-width="1" fill="none"/><path d="M234.60 128.00 L235.00 122.24 L235.80 122.24 L236.20 128.00" stroke="#0000ff" stroke-width="1.1" fill="none" stroke-linejoin="round"/><text x="48.76" y="25.90" font-size="14.47" fill="#545454" textLength="16.54" lengthAdjust="spacingAndGlyphs">15</text><text x="48.76" y="61.90" font-size="14.47" fill="#545454" textLength="16.54" lengthAdjust="spacingAndGlyphs">10</text><text x="57.03" y="97.90" font-size="14.47" fill="#545454" textLength="8.27" lengthAdjust="spacingAndGlyphs">5</text><text x="57.03" y="132.90" font-size="14.47" fill="#545454" textLength="8.27" lengthAdjust="spacingAndGlyphs">0</text><text x="66.36" y="145.80" font-size="14.47" fill="#545454" textLength="8.27" lengthAdjust="spacingAndGlyphs">0</text><text x="100.82" y="145.80" font-size="14.47" fill="#545454" textLength="41.35" lengthAdjust="spacingAndGlyphs">10000</text><text x="151.82" y="145.80" font-size="14.47" fill="#545454" textLength="41.35" lengthAdjust="spacingAndGlyphs">20000</text><text x="202.82" y="145.80" font-size="14.47" fill="#545454" textLength="41.35" lengthAdjust="spacingAndGlyphs">30000</text><text x="253.82" y="145.80" font-size="14.47" fill="#545454" textLength="41.35" lengthAdjust="spacingAndGlyphs">40000</text><text x="304.82" y="145.80" font-size="14.47" fill="#545454" textLength="41.35" lengthAdjust="spacingAndGlyphs">50000</text><text x="355.82" y="145.80" font-size="14.47" fill="#545454" textLength="41.35" lengthAdjust="spacingAndGlyphs">60000</text><rect x="290.5" y="30.5" width="17" height="13" fill="none" stroke="#ccc"/><rect x="292" y="32" width="14" height="10" fill="#0000ff"/><text x="312.30" y="41.85" font-size="14.47" fill="#858585" textLength="84.80" lengthAdjust="spacingAndGlyphs">aida13 1.8.H</text><path d="M405 8.8 L417.2 21 L405 33.2 L392.8 21 Z" fill="#ff0000"/></svg>
<div class="td" style="left:482px;top:679px;width:470px;height:150px"></div>
<svg class="ch" width="471" height="151" style="left:482px;top:679px"><line x1="121.5" y1="21" x2="121.5" y2="128" stroke="rgba(128,128,128,0.24)"/><line x1="172.5" y1="21" x2="172.5" y2="128" stroke="rgba(128,128,128,0.24)"/><line x1="223.5" y1="21" x2="223.5" y2="128" stroke="rgba(128,128,128,0.24)"/><line x1="274.5" y1="21" x2="274.5" y2="128" stroke="rgba(128,128,128,0.24)"/><line x1="325.5" y1="21" x2="325.5" y2="128" stroke="rgba(128,128,128,0.24)"/><line x1="376.5" y1="21" x2="376.5" y2="128" stroke="rgba(128,128,128,0.24)"/><line x1="70" y1="56.5" x2="404" y2="56.5" stroke="rgba(128,128,128,0.24)"/><line x1="70" y1="92.5" x2="404" y2="92.5" stroke="rgba(128,128,128,0.24)"/><rect x="69" y="20" width="337" height="109" fill="none" stroke="#757575" stroke-width="2"/><path d="M70 128 H405" stroke="#0000ff" stroke-width="1" fill="none"/><path d="M110.60 128.00 L110.80 83.36 L111.30 83.36 L111.50 99.20 L111.90 128.00" stroke="#0000ff" stroke-width="1.1" fill="none" stroke-linejoin="round"/><path d="M150.60 128.00 L150.90 69.68 L151.40 69.68 L152.20 83.36 L152.50 106.40 L152.90 124.40 L153.30 118.64 L153.70 124.40 L154.00 128.00" stroke="#0000ff" stroke-width="1.1" fill="none" stroke-linejoin="round"/><path d="M231.70 128.00 L232.10 84.80 L232.50 51.68 L232.90 51.68 L233.30 89.84 L233.70 100.64 L234.30 88.40 L234.70 38.00 L235.30 38.00 L235.70 54.56 L236.20 43.04 L236.60 43.04 L236.90 87.68 L237.20 128.00" stroke="#0000ff" stroke-width="1.1" fill="none" stroke-linejoin="round"/><text x="48.76" y="25.90" font-size="14.47" fill="#545454" textLength="16.54" lengthAdjust="spacingAndGlyphs">15</text><text x="48.76" y="61.90" font-size="14.47" fill="#545454" textLength="16.54" lengthAdjust="spacingAndGlyphs">10</text><text x="57.03" y="97.90" font-size="14.47" fill="#545454" textLength="8.27" lengthAdjust="spacingAndGlyphs">5</text><text x="57.03" y="132.90" font-size="14.47" fill="#545454" textLength="8.27" lengthAdjust="spacingAndGlyphs">0</text><text x="66.36" y="145.80" font-size="14.47" fill="#545454" textLength="8.27" lengthAdjust="spacingAndGlyphs">0</text><text x="100.82" y="145.80" font-size="14.47" fill="#545454" textLength="41.35" lengthAdjust="spacingAndGlyphs">10000</text><text x="151.82" y="145.80" font-size="14.47" fill="#545454" textLength="41.35" lengthAdjust="spacingAndGlyphs">20000</text><text x="202.82" y="145.80" font-size="14.47" fill="#545454" textLength="41.35" lengthAdjust="spacingAndGlyphs">30000</text><text x="253.82" y="145.80" font-size="14.47" fill="#545454" textLength="41.35" lengthAdjust="spacingAndGlyphs">40000</text><text x="304.82" y="145.80" font-size="14.47" fill="#545454" textLength="41.35" lengthAdjust="spacingAndGlyphs">50000</text><text x="355.82" y="145.80" font-size="14.47" fill="#545454" textLength="41.35" lengthAdjust="spacingAndGlyphs">60000</text><rect x="290.5" y="30.5" width="17" height="13" fill="none" stroke="#ccc"/><rect x="292" y="32" width="14" height="10" fill="#0000ff"/><text x="312.30" y="41.85" font-size="14.47" fill="#858585" textLength="84.80" lengthAdjust="spacingAndGlyphs">aida05 1.8.H</text><path d="M405 8.8 L417.2 21 L405 33.2 L392.8 21 Z" fill="#ff0000"/></svg>
<div class="td" style="left:954px;top:679px;width:471px;height:150px"></div>
<svg class="ch" width="472" height="151" style="left:954px;top:679px"><line x1="121.5" y1="21" x2="121.5" y2="128" stroke="rgba(128,128,128,0.24)"/><line x1="172.5" y1="21" x2="172.5" y2="128" stroke="rgba(128,128,128,0.24)"/><line x1="223.5" y1="21" x2="223.5" y2="128" stroke="rgba(128,128,128,0.24)"/><line x1="274.5" y1="21" x2="274.5" y2="128" stroke="rgba(128,128,128,0.24)"/><line x1="325.5" y1="21" x2="325.5" y2="128" stroke="rgba(128,128,128,0.24)"/><line x1="376.5" y1="21" x2="376.5" y2="128" stroke="rgba(128,128,128,0.24)"/><line x1="70" y1="56.5" x2="404" y2="56.5" stroke="rgba(128,128,128,0.24)"/><line x1="70" y1="92.5" x2="404" y2="92.5" stroke="rgba(128,128,128,0.24)"/><rect x="69" y="20" width="337" height="109" fill="none" stroke="#757575" stroke-width="2"/><path d="M70 128 H405" stroke="#0000ff" stroke-width="1" fill="none"/><path d="M235.60 128.00 L236.00 122.24 L236.80 122.24 L237.20 128.00" stroke="#0000ff" stroke-width="1.1" fill="none" stroke-linejoin="round"/><text x="48.76" y="25.90" font-size="14.47" fill="#545454" textLength="16.54" lengthAdjust="spacingAndGlyphs">15</text><text x="48.76" y="61.90" font-size="14.47" fill="#545454" textLength="16.54" lengthAdjust="spacingAndGlyphs">10</text><text x="57.03" y="97.90" font-size="14.47" fill="#545454" textLength="8.27" lengthAdjust="spacingAndGlyphs">5</text><text x="57.03" y="132.90" font-size="14.47" fill="#545454" textLength="8.27" lengthAdjust="spacingAndGlyphs">0</text><text x="66.36" y="145.80" font-size="14.47" fill="#545454" textLength="8.27" lengthAdjust="spacingAndGlyphs">0</text><text x="100.82" y="145.80" font-size="14.47" fill="#545454" textLength="41.35" lengthAdjust="spacingAndGlyphs">10000</text><text x="151.82" y="145.80" font-size="14.47" fill="#545454" textLength="41.35" lengthAdjust="spacingAndGlyphs">20000</text><text x="202.82" y="145.80" font-size="14.47" fill="#545454" textLength="41.35" lengthAdjust="spacingAndGlyphs">30000</text><text x="253.82" y="145.80" font-size="14.47" fill="#545454" textLength="41.35" lengthAdjust="spacingAndGlyphs">40000</text><text x="304.82" y="145.80" font-size="14.47" fill="#545454" textLength="41.35" lengthAdjust="spacingAndGlyphs">50000</text><text x="355.82" y="145.80" font-size="14.47" fill="#545454" textLength="41.35" lengthAdjust="spacingAndGlyphs">60000</text><rect x="290.5" y="30.5" width="17" height="13" fill="none" stroke="#ccc"/><rect x="292" y="32" width="14" height="10" fill="#0000ff"/><text x="312.30" y="41.85" font-size="14.47" fill="#858585" textLength="84.80" lengthAdjust="spacingAndGlyphs">aida14 1.8.H</text><path d="M405 8.8 L417.2 21 L405 33.2 L392.8 21 Z" fill="#ff0000"/></svg>
<div class="td" style="left:1427px;top:679px;width:470px;height:150px"></div>
<div class="td" style="left:9px;top:831px;width:471px;height:150px"></div>
<svg class="ch" width="472" height="151" style="left:9px;top:831px"><line x1="121.5" y1="21" x2="121.5" y2="128" stroke="rgba(128,128,128,0.24)"/><line x1="172.5" y1="21" x2="172.5" y2="128" stroke="rgba(128,128,128,0.24)"/><line x1="223.5" y1="21" x2="223.5" y2="128" stroke="rgba(128,128,128,0.24)"/><line x1="274.5" y1="21" x2="274.5" y2="128" stroke="rgba(128,128,128,0.24)"/><line x1="325.5" y1="21" x2="325.5" y2="128" stroke="rgba(128,128,128,0.24)"/><line x1="376.5" y1="21" x2="376.5" y2="128" stroke="rgba(128,128,128,0.24)"/><line x1="70" y1="56.5" x2="404" y2="56.5" stroke="rgba(128,128,128,0.24)"/><line x1="70" y1="92.5" x2="404" y2="92.5" stroke="rgba(128,128,128,0.24)"/><rect x="69" y="20" width="337" height="109" fill="none" stroke="#757575" stroke-width="2"/><path d="M70 128 H405" stroke="#0000ff" stroke-width="1" fill="none"/><text x="48.76" y="25.90" font-size="14.47" fill="#545454" textLength="16.54" lengthAdjust="spacingAndGlyphs">15</text><text x="48.76" y="61.90" font-size="14.47" fill="#545454" textLength="16.54" lengthAdjust="spacingAndGlyphs">10</text><text x="57.03" y="97.90" font-size="14.47" fill="#545454" textLength="8.27" lengthAdjust="spacingAndGlyphs">5</text><text x="57.03" y="132.90" font-size="14.47" fill="#545454" textLength="8.27" lengthAdjust="spacingAndGlyphs">0</text><text x="66.36" y="145.80" font-size="14.47" fill="#545454" textLength="8.27" lengthAdjust="spacingAndGlyphs">0</text><text x="100.82" y="145.80" font-size="14.47" fill="#545454" textLength="41.35" lengthAdjust="spacingAndGlyphs">10000</text><text x="151.82" y="145.80" font-size="14.47" fill="#545454" textLength="41.35" lengthAdjust="spacingAndGlyphs">20000</text><text x="202.82" y="145.80" font-size="14.47" fill="#545454" textLength="41.35" lengthAdjust="spacingAndGlyphs">30000</text><text x="253.82" y="145.80" font-size="14.47" fill="#545454" textLength="41.35" lengthAdjust="spacingAndGlyphs">40000</text><text x="304.82" y="145.80" font-size="14.47" fill="#545454" textLength="41.35" lengthAdjust="spacingAndGlyphs">50000</text><text x="355.82" y="145.80" font-size="14.47" fill="#545454" textLength="41.35" lengthAdjust="spacingAndGlyphs">60000</text><rect x="290.5" y="30.5" width="17" height="13" fill="none" stroke="#ccc"/><rect x="292" y="32" width="14" height="10" fill="#0000ff"/><text x="312.30" y="41.85" font-size="14.47" fill="#858585" textLength="84.80" lengthAdjust="spacingAndGlyphs">aida15 1.8.H</text><path d="M405 8.8 L417.2 21 L405 33.2 L392.8 21 Z" fill="#ff0000"/></svg>
<div class="td" style="left:482px;top:831px;width:470px;height:150px"></div>
<svg class="ch" width="471" height="151" style="left:482px;top:831px"><line x1="121.5" y1="21" x2="121.5" y2="128" stroke="rgba(128,128,128,0.24)"/><line x1="172.5" y1="21" x2="172.5" y2="128" stroke="rgba(128,128,128,0.24)"/><line x1="223.5" y1="21" x2="223.5" y2="128" stroke="rgba(128,128,128,0.24)"/><line x1="274.5" y1="21" x2="274.5" y2="128" stroke="rgba(128,128,128,0.24)"/><line x1="325.5" y1="21" x2="325.5" y2="128" stroke="rgba(128,128,128,0.24)"/><line x1="376.5" y1="21" x2="376.5" y2="128" stroke="rgba(128,128,128,0.24)"/><line x1="70" y1="56.5" x2="404" y2="56.5" stroke="rgba(128,128,128,0.24)"/><line x1="70" y1="92.5" x2="404" y2="92.5" stroke="rgba(128,128,128,0.24)"/><rect x="69" y="20" width="337" height="109" fill="none" stroke="#757575" stroke-width="2"/><path d="M70 128 H405" stroke="#0000ff" stroke-width="1" fill="none"/><text x="48.76" y="25.90" font-size="14.47" fill="#545454" textLength="16.54" lengthAdjust="spacingAndGlyphs">15</text><text x="48.76" y="61.90" font-size="14.47" fill="#545454" textLength="16.54" lengthAdjust="spacingAndGlyphs">10</text><text x="57.03" y="97.90" font-size="14.47" fill="#545454" textLength="8.27" lengthAdjust="spacingAndGlyphs">5</text><text x="57.03" y="132.90" font-size="14.47" fill="#545454" textLength="8.27" lengthAdjust="spacingAndGlyphs">0</text><text x="66.36" y="145.80" font-size="14.47" fill="#545454" textLength="8.27" lengthAdjust="spacingAndGlyphs">0</text><text x="100.82" y="145.80" font-size="14.47" fill="#545454" textLength="41.35" lengthAdjust="spacingAndGlyphs">10000</text><text x="151.82" y="145.80" font-size="14.47" fill="#545454" textLength="41.35" lengthAdjust="spacingAndGlyphs">20000</text><text x="202.82" y="145.80" font-size="14.47" fill="#545454" textLength="41.35" lengthAdjust="spacingAndGlyphs">30000</text><text x="253.82" y="145.80" font-size="14.47" fill="#545454" textLength="41.35" lengthAdjust="spacingAndGlyphs">40000</text><text x="304.82" y="145.80" font-size="14.47" fill="#545454" textLength="41.35" lengthAdjust="spacingAndGlyphs">50000</text><text x="355.82" y="145.80" font-size="14.47" fill="#545454" textLength="41.35" lengthAdjust="spacingAndGlyphs">60000</text><rect x="290.5" y="30.5" width="17" height="13" fill="none" stroke="#ccc"/><rect x="292" y="32" width="14" height="10" fill="#0000ff"/><text x="312.30" y="41.85" font-size="14.47" fill="#858585" textLength="84.80" lengthAdjust="spacingAndGlyphs">aida07 1.8.H</text><path d="M405 8.8 L417.2 21 L405 33.2 L392.8 21 Z" fill="#ff0000"/></svg>
<div class="td" style="left:954px;top:831px;width:471px;height:150px"></div>
<svg class="ch" width="472" height="151" style="left:954px;top:831px"><line x1="121.5" y1="21" x2="121.5" y2="128" stroke="rgba(0,0,0,0.22)"/><line x1="172.5" y1="21" x2="172.5" y2="128" stroke="rgba(0,0,0,0.22)"/><line x1="223.5" y1="21" x2="223.5" y2="128" stroke="rgba(0,0,0,0.22)"/><line x1="274.5" y1="21" x2="274.5" y2="128" stroke="rgba(0,0,0,0.22)"/><line x1="325.5" y1="21" x2="325.5" y2="128" stroke="rgba(0,0,0,0.22)"/><line x1="376.5" y1="21" x2="376.5" y2="128" stroke="rgba(0,0,0,0.22)"/><line x1="70" y1="56.5" x2="404" y2="56.5" stroke="rgba(0,0,0,0.22)"/><line x1="70" y1="92.5" x2="404" y2="92.5" stroke="rgba(0,0,0,0.22)"/><rect x="69" y="20" width="337" height="109" fill="none" stroke="#000" stroke-width="2"/><path d="M70 128 H405" stroke="#0000ff" stroke-width="1" fill="none"/><text x="48.76" y="25.90" font-size="14.47" fill="#545454" textLength="16.54" lengthAdjust="spacingAndGlyphs">15</text><text x="48.76" y="61.90" font-size="14.47" fill="#545454" textLength="16.54" lengthAdjust="spacingAndGlyphs">10</text><text x="57.03" y="97.90" font-size="14.47" fill="#545454" textLength="8.27" lengthAdjust="spacingAndGlyphs">5</text><text x="57.03" y="132.90" font-size="14.47" fill="#545454" textLength="8.27" lengthAdjust="spacingAndGlyphs">0</text><text x="66.36" y="145.80" font-size="14.47" fill="#545454" textLength="8.27" lengthAdjust="spacingAndGlyphs">0</text><text x="100.82" y="145.80" font-size="14.47" fill="#545454" textLength="41.35" lengthAdjust="spacingAndGlyphs">10000</text><text x="151.82" y="145.80" font-size="14.47" fill="#545454" textLength="41.35" lengthAdjust="spacingAndGlyphs">20000</text><text x="202.82" y="145.80" font-size="14.47" fill="#545454" textLength="41.35" lengthAdjust="spacingAndGlyphs">30000</text><text x="253.82" y="145.80" font-size="14.47" fill="#545454" textLength="41.35" lengthAdjust="spacingAndGlyphs">40000</text><text x="304.82" y="145.80" font-size="14.47" fill="#545454" textLength="41.35" lengthAdjust="spacingAndGlyphs">50000</text><text x="355.82" y="145.80" font-size="14.47" fill="#545454" textLength="41.35" lengthAdjust="spacingAndGlyphs">60000</text><rect x="290.5" y="30.5" width="17" height="13" fill="none" stroke="#ccc"/><rect x="292" y="32" width="14" height="10" fill="#0000ff"/><text x="312.30" y="41.85" font-size="14.47" fill="#000" textLength="84.80" lengthAdjust="spacingAndGlyphs">aida16 1.8.H</text><path d="M405 8.8 L417.2 21 L405 33.2 L392.8 21 Z" fill="#00ff00"/></svg>
<div class="td" style="left:1427px;top:831px;width:470px;height:150px"></div>
<div class="btn" style="left:8px;top:1000px;width:173px;height:24px"></div>
<div class="tx" style="left:33.17px;top:1004.00px;font-family:'Liberation Sans', sans-serif;font-weight:normal;font-size:13.71px;color:#2e3436;transform:scaleX(1.0560)">Empty Log Window</div>
<div class="btn" style="left:188px;top:1000px;width:216px;height:24px"></div>
<div class="tx" style="left:212.88px;top:1004.00px;font-family:'Liberation Sans', sans-serif;font-weight:normal;font-size:13.71px;color:#2e3436;transform:scaleX(1.0368)">Send Log Window to ELog</div>
<div class="btn" style="left:411px;top:1000px;width:91px;height:24px"></div>
<div class="tx" style="left:435.38px;top:1004.00px;font-family:'Liberation Sans', sans-serif;font-weight:normal;font-size:13.71px;color:#2e3436;transform:scaleX(1.0186)">Reload</div>
<div class="btn" style="left:510px;top:1000px;width:85px;height:24px"></div>
<div class="tx" style="left:535.34px;top:1004.00px;font-family:'Liberation Sans', sans-serif;font-weight:normal;font-size:13.71px;color:#2e3436;transform:scaleX(1.0145)">Reset</div>
<div class="btn" style="left:602px;top:1000px;width:146px;height:24px"></div>
<div class="tx" style="left:626.69px;top:1004.00px;font-family:'Liberation Sans', sans-serif;font-weight:normal;font-size:13.71px;color:#2e3436;transform:scaleX(1.0469)">Show Variables</div>
<div class="btn" style="left:755px;top:1000px;width:166px;height:24px"></div>
<div class="tx" style="left:780.09px;top:1004.00px;font-family:'Liberation Sans', sans-serif;font-weight:normal;font-size:13.71px;color:#2e3436;transform:scaleX(1.0381)">Show Log Window</div>
<div class="btn" style="left:928px;top:1000px;width:148px;height:24px"></div>
<div class="tx" style="left:953.01px;top:1004.00px;font-family:'Liberation Sans', sans-serif;font-weight:normal;font-size:13.71px;color:#2e3436;transform:scaleX(1.0498)">Enable Logging</div>
<div class="btn" style="left:1713px;top:1000px;width:185px;height:24px"></div>
<div class="tx" style="left:1737.93px;top:1004.00px;font-family:'Liberation Sans', sans-serif;font-weight:normal;font-size:13.71px;color:#2e3436;transform:scaleX(1.0716)">How to use this page</div>
<div class="tx" style="left:1591.93px;top:1041.00px;font-family:'Liberation Serif', serif;font-weight:normal;font-size:17.81px;color:#ff0000;transform:scaleX(1.1391)">Last Updated: May 24, 2021 11:10:29</div>
<div class="hr" style="top:1077px"></div>
<div style="position:absolute;left:10px;top:1089px;width:1px;height:1px;background:#556"></div>
<div class="tx" style="left:10.14px;top:1092.00px;font-family:'Liberation Serif', serif;font-weight:normal;font-size:17.81px;color:#551a8b;transform:scaleX(1.1101)">Home</div>
<div style="position:absolute;left:10px;top:1109px;width:48px;height:1px;background:#551a8b"></div>
</body></html>
